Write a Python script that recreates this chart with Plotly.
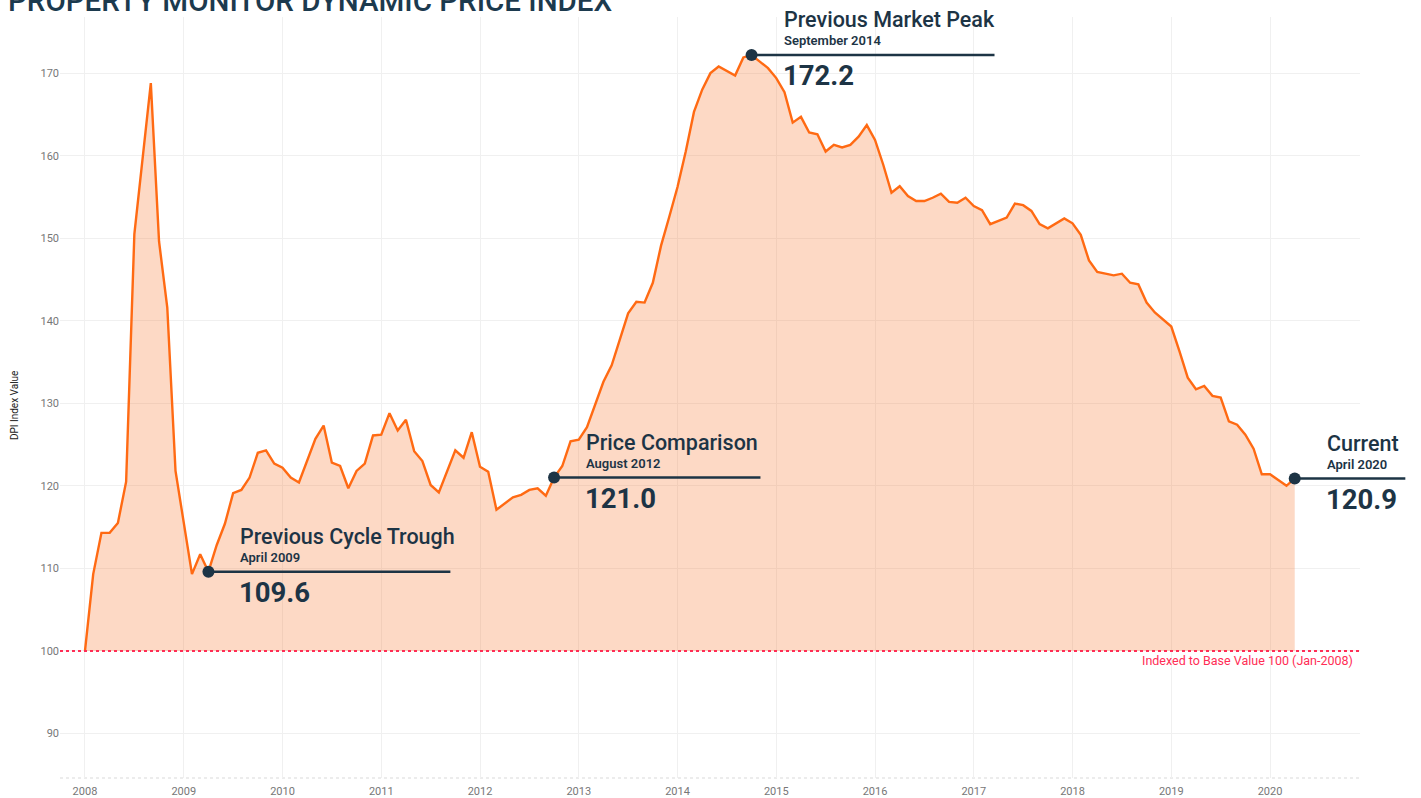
import plotly.graph_objects as go

# ---------------- data (monthly DPI values, Jan-2008 .. Apr-2020) ----------------
dpi_2008 = [100.0, 109.3, 114.3, 114.3, 115.5, 120.5, 150.5, 159.5, 168.8, 149.6, 141.6, 121.8]
dpi_2009 = [115.6, 109.3, 111.7, 109.6, 112.8, 115.4, 119.1, 119.5, 121.0, 124.0, 124.3, 122.7]
dpi_2010 = [122.2, 121.0, 120.4, 123.0, 125.7, 127.3, 122.8, 122.4, 119.7, 121.8, 122.7, 126.1]
dpi_2011 = [126.2, 128.8, 126.7, 128.0, 124.2, 123.0, 120.1, 119.2, 121.7, 124.3, 123.4, 126.5]
dpi_2012 = [122.3, 121.7, 117.1, 117.9, 118.6, 118.9, 119.5, 119.7, 118.8, 121.0, 122.4, 125.4]
dpi_2013 = [125.6, 127.1, 129.8, 132.6, 134.6, 137.7, 140.9, 142.3, 142.2, 144.6, 149.1, 152.6]
dpi_2014 = [156.2, 160.5, 165.3, 168.0, 170.0, 170.8, 170.2, 169.7, 171.9, 172.2, 171.4, 170.6]
dpi_2015 = [169.4, 167.7, 164.0, 164.7, 162.8, 162.6, 160.5, 161.3, 161.0, 161.3, 162.3, 163.7]
dpi_2016 = [161.9, 158.9, 155.5, 156.3, 155.1, 154.5, 154.5, 154.9, 155.4, 154.4, 154.3, 154.9]
dpi_2017 = [153.9, 153.4, 151.7, 152.1, 152.5, 154.2, 154.0, 153.3, 151.7, 151.2, 151.8, 152.4]
dpi_2018 = [151.8, 150.4, 147.3, 145.9, 145.7, 145.5, 145.7, 144.6, 144.4, 142.2, 141.0, 140.2]
dpi_2019 = [139.3, 136.3, 133.1, 131.7, 132.1, 130.9, 130.7, 127.8, 127.4, 126.2, 124.5, 121.4]
dpi_2020 = [121.4, 120.7, 120.0, 120.9]

start_year = 2008
year_ticks = list(range(2008, 2021))
y_ticks = [90, 100, 110, 120, 130, 140, 150, 160, 170]
base_value = 100

hl_titles = ["Previous Cycle Trough", "Price Comparison", "Previous Market Peak", "Current"]
hl_dates = ["April 2009", "August 2012", "September 2014", "April 2020"]
hl_values = ["109.6", "121.0", "172.2", "120.9"]
hl_index = [15, 57, 81, 147]
hl_line_end = [2011.70, 2014.84, 2017.21, 2021.37]

base_note = "Indexed to Base Value 100 (Jan-2008)"
chart_title = "PROPERTY MONITOR DYNAMIC PRICE INDEX"
y_title = "DPI Index Value"

# ---------------- build ----------------
values = (dpi_2008 + dpi_2009 + dpi_2010 + dpi_2011 + dpi_2012 + dpi_2013 + dpi_2014
          + dpi_2015 + dpi_2016 + dpi_2017 + dpi_2018 + dpi_2019 + dpi_2020)
xs = [start_year + i / 12 for i in range(len(values))]

X0, X1 = 2007.747, 2020.911
Y0, Y1 = 84.6, 176.8

NAVY = "#1d3445"
ORANGE = "#ff6a13"
RED = "#ff2d55"

W, H = 1421, 798
ML, MR, MT, MB = 60, 61, 17, 20
PW = W - ML - MR
PH = H - MT - MB

fig = go.Figure()
fig.add_trace(go.Scatter(x=xs, y=[base_value] * len(xs), mode="lines",
                         line=dict(width=0), hoverinfo="skip", showlegend=False))
fig.add_trace(go.Scatter(x=xs, y=values, mode="lines", fill="tonexty",
                         fillcolor="rgba(249,118,48,0.28)",
                         line=dict(color=ORANGE, width=2.4), showlegend=False))

def px(v):
    return (v - X0) / (X1 - X0)

def py(v):
    return (v - Y0) / (Y1 - Y0)

shapes = []
shapes.append(dict(type="line", xref="paper", yref="paper", x0=0, x1=1,
                   y0=py(base_value), y1=py(base_value),
                   line=dict(color=RED, width=2, dash="dot"), layer="above"))
shapes.append(dict(type="line", xref="paper", yref="paper", x0=0, x1=1, y0=0, y1=0,
                   line=dict(color="#e6e6e6", width=1.5, dash="dot"), layer="below"))

annotations = []
hx = [xs[i] for i in hl_index]
hy = [values[i] for i in hl_index]
for t, d, v, x, y, xe in zip(hl_titles, hl_dates, hl_values, hx, hy, hl_line_end):
    shapes.append(dict(type="line", xref="paper", yref="paper", x0=px(x), x1=px(xe),
                       y0=py(y), y1=py(y), line=dict(color=NAVY, width=2.5), layer="above"))
    annotations.append(dict(x=x, y=y, xref="x", yref="y", text=t, showarrow=False,
                            xanchor="left", yanchor="middle", xshift=30, yshift=35,
                            font=dict(family="Roboto", size=21.5, color=NAVY, weight=500)))
    annotations.append(dict(x=x, y=y, xref="x", yref="y", text=d, showarrow=False,
                            xanchor="left", yanchor="middle", xshift=30, yshift=14,
                            font=dict(family="Roboto", size=13, color=NAVY, weight=600)))
    annotations.append(dict(x=x, y=y, xref="x", yref="y", text=v, showarrow=False,
                            xanchor="left", yanchor="middle", xshift=29, yshift=-21,
                            font=dict(family="Roboto", size=27.5, color=NAVY, weight=700)))

fig.add_trace(go.Scatter(x=hx, y=hy, mode="markers", cliponaxis=False,
                         marker=dict(color=NAVY, size=12), showlegend=False, hoverinfo="skip"))

annotations.append(dict(x=1, y=base_value, xref="paper", yref="y", text=base_note,
                        showarrow=False, xanchor="right", yanchor="middle", xshift=-5, yshift=-10,
                        font=dict(family="Roboto", size=12.5, color=RED)))
annotations.append(dict(x=-46 / PW, y=0.49, xref="paper", yref="paper", text=y_title,
                        showarrow=False, textangle=-90, xanchor="center", yanchor="middle",
                        font=dict(family="Roboto", size=10, color="#222222")))
annotations.append(dict(x=-54 / PW, y=1 + 15.5 / PH, xref="paper", yref="paper",
                        text=chart_title, showarrow=False, xanchor="left", yanchor="middle",
                        font=dict(family="Roboto", size=29.5, color="#1c3a4e", weight=500)))

fig.update_layout(
    width=W, height=H,
    margin=dict(l=ML, r=MR, t=MT, b=MB),
    paper_bgcolor="white", plot_bgcolor="white",
    shapes=shapes, annotations=annotations,
    xaxis=dict(range=[X0, X1], tickvals=year_ticks, ticktext=[str(y) for y in year_ticks],
               showgrid=True, gridcolor="#f0f0f0", gridwidth=1, zeroline=False,
               showline=False, ticks="", automargin=False, ticklabelstandoff=5,
               tickfont=dict(family="Roboto", size=11, color="#777777")),
    yaxis=dict(range=[Y0, Y1], tickvals=y_ticks, showgrid=True, gridcolor="#f0f0f0",
               gridwidth=1, zeroline=False, showline=False, ticks="", automargin=False,
               tickfont=dict(family="Roboto", size=11, color="#777777")),
)

fig.write_html("out.html", config={"displayModeBar": False},
               post_script="document.documentElement.style.margin='0';"
                           "document.body.style.margin='0';"
                           "document.body.style.overflow='hidden';")
